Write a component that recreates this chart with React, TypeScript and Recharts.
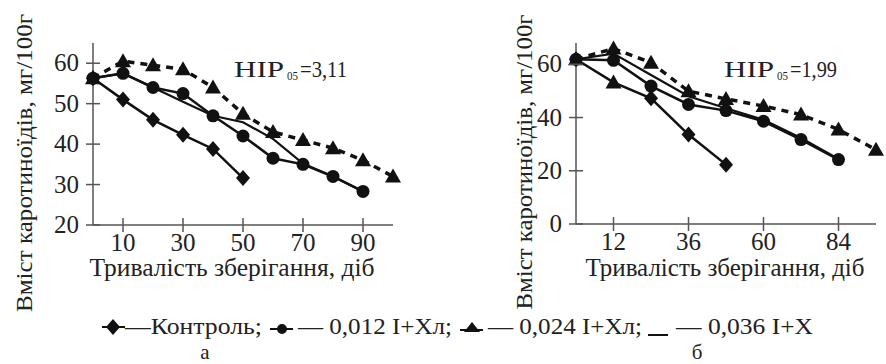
import React from 'react';
import { LineChart, Line, XAxis, YAxis } from 'recharts';

// panel "а" — storage days vs carotenoid content
const daysA = [0, 10, 20, 30, 40, 50, 60, 70, 80, 90, 100];
const controlA = [56.3, 51, 46, 42.3, 38.8, 31.6];
const i012A = [56.3, 57.5, 54, 52.5, 47, 42, 36.5, 35, 32, 28.3];
const i024A = [56.3, 60.5, 59.5, 58.5, 54, 47.5, 43, 41, 39, 36, 32];
const i036A = [56.3, 57.5, 54, 50.5, 47, 45.4, 41.3, 35.2, 32, 28.3];
const ticksXA = [10, 30, 50, 70, 90];
const ticksYA = [20, 30, 40, 50, 60];

// panel "б"
const daysB = [0, 12, 24, 36, 48, 60, 72, 84, 96];
const controlB = [61.9, 53.2, 47.2, 33.6, 22.3];
const controlBMarks = ['diamond', 'triangle', 'diamond', 'diamond', 'diamond'];
const i012B = [61.9, 61.5, 51.8, 44.9, 42.6, 38.6, 31.7, 24.2];
const i024B = [61.9, 65.9, 60.6, 49.9, 47, 44.3, 41.1, 35.5, 27.9];
const i036B = [61.9, 64, 56, 48, 43.5, 39.2, 32.3, 24.4];
const ticksXB = [12, 36, 60, 84];
const ticksYB = [0, 20, 40, 60];

const FONT = "'Liberation Serif', 'Times New Roman', serif";
const AXIS = '#555';
const TS = 7; // tick half length
const TM = 8; // tick margin

const toPoints = (days: number[], vals: number[]) =>
  vals.map((v, i) => ({ x: days[i], y: v }));

function Diamond({ cx, cy }: any) {
  if (cx == null) return null;
  return <polygon points={`${cx},${cy - 8} ${cx + 7},${cy} ${cx},${cy + 8} ${cx - 7},${cy}`} fill="#111" />;
}

function Circle({ cx, cy }: any) {
  if (cx == null) return null;
  return <circle cx={cx} cy={cy} r={6.5} fill="#111" />;
}

function Triangle({ cx, cy }: any) {
  if (cx == null) return null;
  return <polygon points={`${cx},${cy - 8} ${cx + 8},${cy + 6} ${cx - 8},${cy + 6}`} fill="#111" />;
}

function ControlBDot(props: any) {
  const kind = controlBMarks[props.index];
  return kind === 'triangle' ? <Triangle {...props} /> : <Diamond {...props} />;
}

function XTick({ x, y, payload }: any) {
  const ay = y - TS - TM;
  return (
    <g>
      <line x1={x} x2={x} y1={ay - TS} y2={ay + TS} stroke={AXIS} strokeWidth={1.5} />
      <text x={x} y={ay + 26} textAnchor="middle" fontFamily={FONT} fontSize={25} fill="#222">
        {payload.value}
      </text>
    </g>
  );
}

function YTick({ x, y, payload }: any) {
  const ax = x + TS + TM;
  return (
    <g>
      <line x1={ax - TS} x2={ax + TS} y1={y} y2={y} stroke={AXIS} strokeWidth={1.5} />
      <text x={x + 1} y={y + 8} textAnchor="end" fontFamily={FONT} fontSize={25} fill="#222">
        {payload.value}
      </text>
    </g>
  );
}

function Panel({ width, left, xDomain, yDomain, xTicks, yTicks, margin, series }: any) {
  return (
    <div style={{ position: 'absolute', left, top: 0 }}>
      <LineChart width={width} height={260} margin={margin}>
        <XAxis
          type="number"
          dataKey="x"
          domain={xDomain}
          ticks={xTicks}
          tickSize={TS}
          tickMargin={TM}
          tickLine={false}
          axisLine={{ stroke: AXIS, strokeWidth: 1.5 }}
          tick={<XTick />}
          height={30}
        />
        <YAxis
          type="number"
          dataKey="y"
          domain={yDomain}
          ticks={yTicks}
          tickSize={TS}
          tickMargin={TM}
          tickLine={false}
          axisLine={{ stroke: AXIS, strokeWidth: 1.5 }}
          tick={<YTick />}
          width={60}
        />
        {series}
      </LineChart>
    </div>
  );
}

function seriesLines(control: any[], c012: any[], c024: any[], c036: any[], controlDot: any) {
  return [
    <Line key="c036" data={c036} dataKey="y" stroke="#111" strokeWidth={2.2} dot={false} isAnimationActive={false} />,
    <Line key="c024" data={c024} dataKey="y" stroke="#111" strokeWidth={3.5} strokeDasharray="7 6" dot={<Triangle />} isAnimationActive={false} />,
    <Line key="c012" data={c012} dataKey="y" stroke="#111" strokeWidth={2.5} dot={<Circle />} isAnimationActive={false} />,
    <Line key="ctrl" data={control} dataKey="y" stroke="#111" strokeWidth={2.5} dot={controlDot} isAnimationActive={false} />,
  ];
}

export default function App() {
  const txt = { fontFamily: FONT, fill: '#222', lengthAdjust: 'spacingAndGlyphs' as const };
  return (
    <div style={{ position: 'absolute', left: 0, top: 0, width: 886, height: 364, background: '#fff', overflow: 'hidden' }}>
      <Panel
        width={420}
        left={0}
        xDomain={[0, 100]}
        yDomain={[20, 65]}
        xTicks={ticksXA}
        yTicks={ticksYA}
        margin={{ top: 43, right: 27, left: 33, bottom: 5 }}
        series={seriesLines(
          toPoints(daysA, controlA),
          toPoints(daysA, i012A),
          toPoints(daysA, i024A),
          toPoints(daysA, i036A),
          <Diamond />
        )}
      />
      <Panel
        width={436}
        left={450}
        xDomain={[0, 96]}
        yDomain={[0, 68]}
        xTicks={ticksXB}
        yTicks={ticksYB}
        margin={{ top: 43, right: 10, left: 66, bottom: 6 }}
        series={seriesLines(
          toPoints(daysB, controlB),
          toPoints(daysB, i012B),
          toPoints(daysB, i024B),
          toPoints(daysB, i036B),
          <ControlBDot />
        )}
      />
      <svg width={886} height={364} style={{ position: 'absolute', left: 0, top: 0, pointerEvents: 'none' }}>
        {/* axis titles */}
        <text {...txt} fontSize={24} textAnchor="middle" transform="translate(32,163) rotate(-90)" textLength={298}>
          Вміст каротиноїдів, мг/100г
        </text>
        <text {...txt} fontSize={24} textAnchor="middle" transform="translate(532,162) rotate(-90)" textLength={295}>
          Вміст каротиноїдів, мг/100г
        </text>
        <text {...txt} fontSize={25} x={232} y={276} textAnchor="middle" textLength={285}>
          Тривалість зберігання, діб
        </text>
        <text {...txt} fontSize={25} x={725} y={276} textAnchor="middle" textLength={279}>
          Тривалість зберігання, діб
        </text>

        {/* НІР labels */}
        <text {...txt} fontSize={24} x={234} y={77} textLength={50}>НІР</text>
        <text {...txt} fontSize={12} x={287} y={80} textLength={11}>05</text>
        <text {...txt} fontSize={24} x={300} y={77} textLength={47}>=3,11</text>
        <text {...txt} fontSize={24} x={724} y={77} textLength={50}>НІР</text>
        <text {...txt} fontSize={12} x={777} y={80} textLength={11}>05</text>
        <text {...txt} fontSize={24} x={790} y={77} textLength={47}>=1,99</text>

        {/* legend */}
        <line x1={102} x2={125} y1={327} y2={327} stroke="#111" strokeWidth={2} />
        <Diamond cx={113} cy={327} />
        <text {...txt} fontSize={23} x={125} y={334} textLength={137}>—Контроль;</text>
        <line x1={270} x2={293} y1={329} y2={329} stroke="#111" strokeWidth={2} />
        <circle cx={282} cy={329} r={5} fill="#111" />
        <text {...txt} fontSize={23} x={298} y={334} textLength={154}>— 0,012 І+Хл;</text>
        <line x1={460} x2={483} y1={330} y2={330} stroke="#111" strokeWidth={2} />
        <polygon points="472,322 480,332 464,332" fill="#111" />
        <text {...txt} fontSize={23} x={488} y={334} textLength={154}>— 0,024 І+Хл;</text>
        <line x1={648} x2={668} y1={335} y2={335} stroke="#111" strokeWidth={2} />
        <text {...txt} fontSize={23} x={676} y={334} textLength={137}>— 0,036 І+Х</text>

        <text fontFamily={FONT} fill="#222" fontSize={21} x={205} y={359} textAnchor="middle">а</text>
        <text fontFamily={FONT} fill="#222" fontSize={21} x={697} y={359} textAnchor="middle">б</text>
      </svg>
    </div>
  );
}
